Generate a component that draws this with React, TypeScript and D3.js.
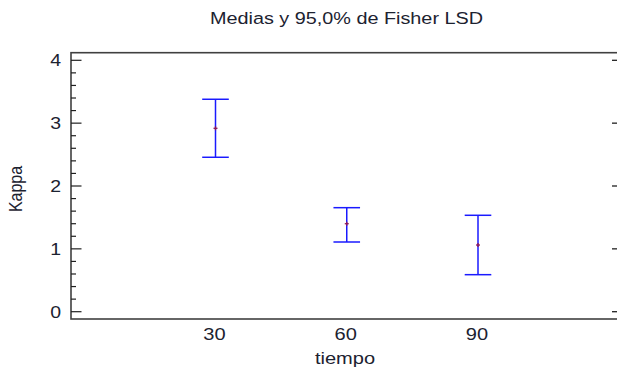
import React from "react";
import * as d3 from "d3";

const title = "Medias y 95,0% de Fisher LSD";
const xLabel = "tiempo";
const yLabel = "Kappa";
const categories = [30, 60, 90];
const means = [2.918, 1.4, 1.061];
const lower = [2.457, 1.109, 0.589];
const upper = [3.38, 1.655, 1.534];
const yTicks = [0, 1, 2, 3, 4];

const W = 617;
const H = 367;
const frame = { left: 71, top: 52.7, right: 619, bottom: 319 };
const SX = 1.18;

function T({ x, y, size, anchor = "middle", rotate = 0, children, dy }: any) {
  return (
    <text
      transform={`translate(${x},${y}) scale(${SX},1) rotate(${rotate})`}
      textAnchor={anchor}
      fontSize={size}
      dy={dy}
      fill="#1c2230"
    >
      {children}
    </text>
  );
}

export default function App() {
  const x = d3.scaleLinear().domain([30, 90]).range([215.5, 478]);
  const y = d3.scaleLinear().domain([0, 4]).range([311.7, 60.3]);
  const minor = d3.range(0, 4.0001, 0.2);
  const font = "'Liberation Sans', Arial, sans-serif";
  const cap = 13.3;
  return (
    <svg
      width={W}
      height={H}
      style={{ position: "absolute", left: 0, top: 0, background: "#fff" }}
      fontFamily={font}
    >
      <T x={346.5} y={24.3} size={16.8}>
        {title}
      </T>
      <rect
        x={frame.left}
        y={frame.top}
        width={frame.right - frame.left}
        height={frame.bottom - frame.top}
        fill="none"
        stroke="#404040"
        strokeWidth={1.6}
      />
      {minor.map((v, i) => {
        const isMajor = Math.abs(v - Math.round(v)) < 1e-6;
        return (
          <line
            key={"m" + i}
            x1={frame.left}
            x2={frame.left + (isMajor ? 10.5 : 5)}
            y1={y(v)}
            y2={y(v)}
            stroke="#202020"
            strokeWidth={1.2}
          />
        );
      })}
      {yTicks.map((v) => (
        <g key={"t" + v}>
          <line x1={612} x2={617} y1={y(v)} y2={y(v)} stroke="#202020" strokeWidth={1.3} />
          <T x={61} y={y(v)} size={16.5} anchor="end" dy="0.36em">
            {v}
          </T>
        </g>
      ))}
      {categories.map((c) => (
        <T key={"x" + c} x={x(c) - 1} y={340} size={17}>
          {c}
        </T>
      ))}
      <T x={345} y={364} size={17}>
        {xLabel}
      </T>
      <T x={22} y={189} size={16} rotate={-90}>
        {yLabel}
      </T>
      {categories.map((c, i) => {
        const cx = x(c);
        return (
          <g key={"e" + c} stroke="#1a1aff" strokeWidth={1.5}>
            <line x1={cx} x2={cx} y1={y(upper[i])} y2={y(lower[i])} />
            <line x1={cx - cap} x2={cx + cap} y1={y(upper[i])} y2={y(upper[i])} />
            <line x1={cx - cap} x2={cx + cap} y1={y(lower[i])} y2={y(lower[i])} />
            <line
              x1={cx - 2}
              x2={cx + 2}
              y1={y(means[i])}
              y2={y(means[i])}
              stroke="#8b1a5a"
              strokeWidth={1.3}
            />
            <line
              x1={cx}
              x2={cx}
              y1={y(means[i]) - 2}
              y2={y(means[i]) + 2}
              stroke="#8b1a5a"
              strokeWidth={1.3}
            />
          </g>
        );
      })}
    </svg>
  );
}
